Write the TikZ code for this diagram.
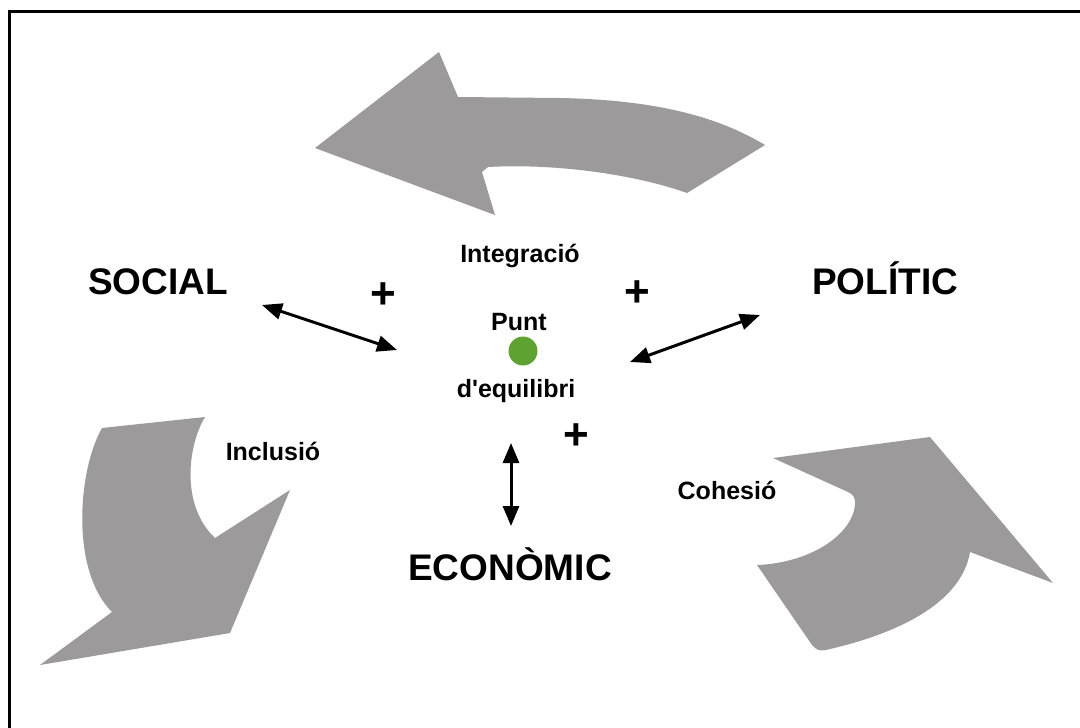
\documentclass[tikz,border=0pt]{standalone}
\usepackage{fontspec}
\setmainfont{Liberation Sans}[Ligatures=TeXOff]
\usetikzlibrary{arrows.meta}
\definecolor{arrgray}{RGB}{156,154,155}
\definecolor{dotgreen}{RGB}{94,163,50}
\begin{document}
\begin{tikzpicture}[x=1pt,y=-1pt,
  big/.style={font=\fontsize{37}{40}\selectfont\bfseries, anchor=base, inner sep=0},
  mid/.style={font=\fontsize{25}{28}\selectfont\bfseries, anchor=base, inner sep=0},
  plus/.style={font=\fontsize{44}{46}\selectfont\bfseries, inner sep=0},
  dbl/.style={{Triangle[length=20pt,width=16pt]}-{Triangle[length=20pt,width=16pt]}, line width=3pt},
  bigarrow/.style={fill=arrgray, draw=none}]
\useasboundingbox (0,0) rectangle (1080,728);
\fill[white] (0,0) rectangle (1080,728);
\draw[line width=3pt] (9,728) -- (9,11) -- (1080,11);

% top curved arrow
\fill[bigarrow] (315,148) -- (439,52) -- (458,97) -- (560,98)
  .. controls (660,100) and (720,118) .. (765,145)
  -- (687,193)
  .. controls (640,176) and (560,163) .. (488,167)
  -- (482,172) -- (495,215) -- cycle;

% lower-left arrow
\fill[bigarrow] (102,428) -- (205,417)
  .. controls (188,445) and (180,505) .. (215,538)
  -- (290,490) -- (230,633) -- (40,665) -- (112,612)
  .. controls (70,570) and (78,470) .. (102,428) -- cycle;

% lower-right arrow
\fill[bigarrow] (773,458) -- (930,437) -- (1053,583) -- (970,552)
  .. controls (962,600) and (905,632) .. (826,650)
  .. controls (820,651) and (816,650) .. (812,645)
  -- (757,565)
  .. controls (810,563) and (852,535) .. (855,505)
  .. controls (856,498) and (853,494) .. (848,492) -- cycle;

% labels
\node[big] (social) at (158,294) {SOCIAL};
\node[big] (politic) at (885,294) {POLÍTIC};
\node[big] (economic) at (510,580) {ECONÒMIC};
\node[mid] (integ) at (520,262) {Integració};
\node[mid] (punt) at (519,330) {Punt};
\node[mid] (equil) at (516,397) {d'equilibri};
\node[mid] (incl) at (273,460) {Inclusió};
\node[mid] (cohes) at (727,499) {Cohesió};
\node[plus] (p1) at (383,296) {+};
\node[plus] (p2) at (637,294) {+};
\node[plus] (p3) at (576,437) {+};

\fill[dotgreen] (523,351) circle (14.5) node (dot) {};

% double arrows
\coordinate (a1) at (262,305);
\coordinate (a2) at (397,350);
\coordinate (b1) at (630,362);
\coordinate (b2) at (760,315);
\coordinate (c1) at (511,443);
\coordinate (c2) at (511,526);
\draw[dbl] (a1) -- (a2);
\draw[dbl] (b1) -- (b2);
\draw[dbl] (c1) -- (c2);
\end{tikzpicture}
\end{document}
